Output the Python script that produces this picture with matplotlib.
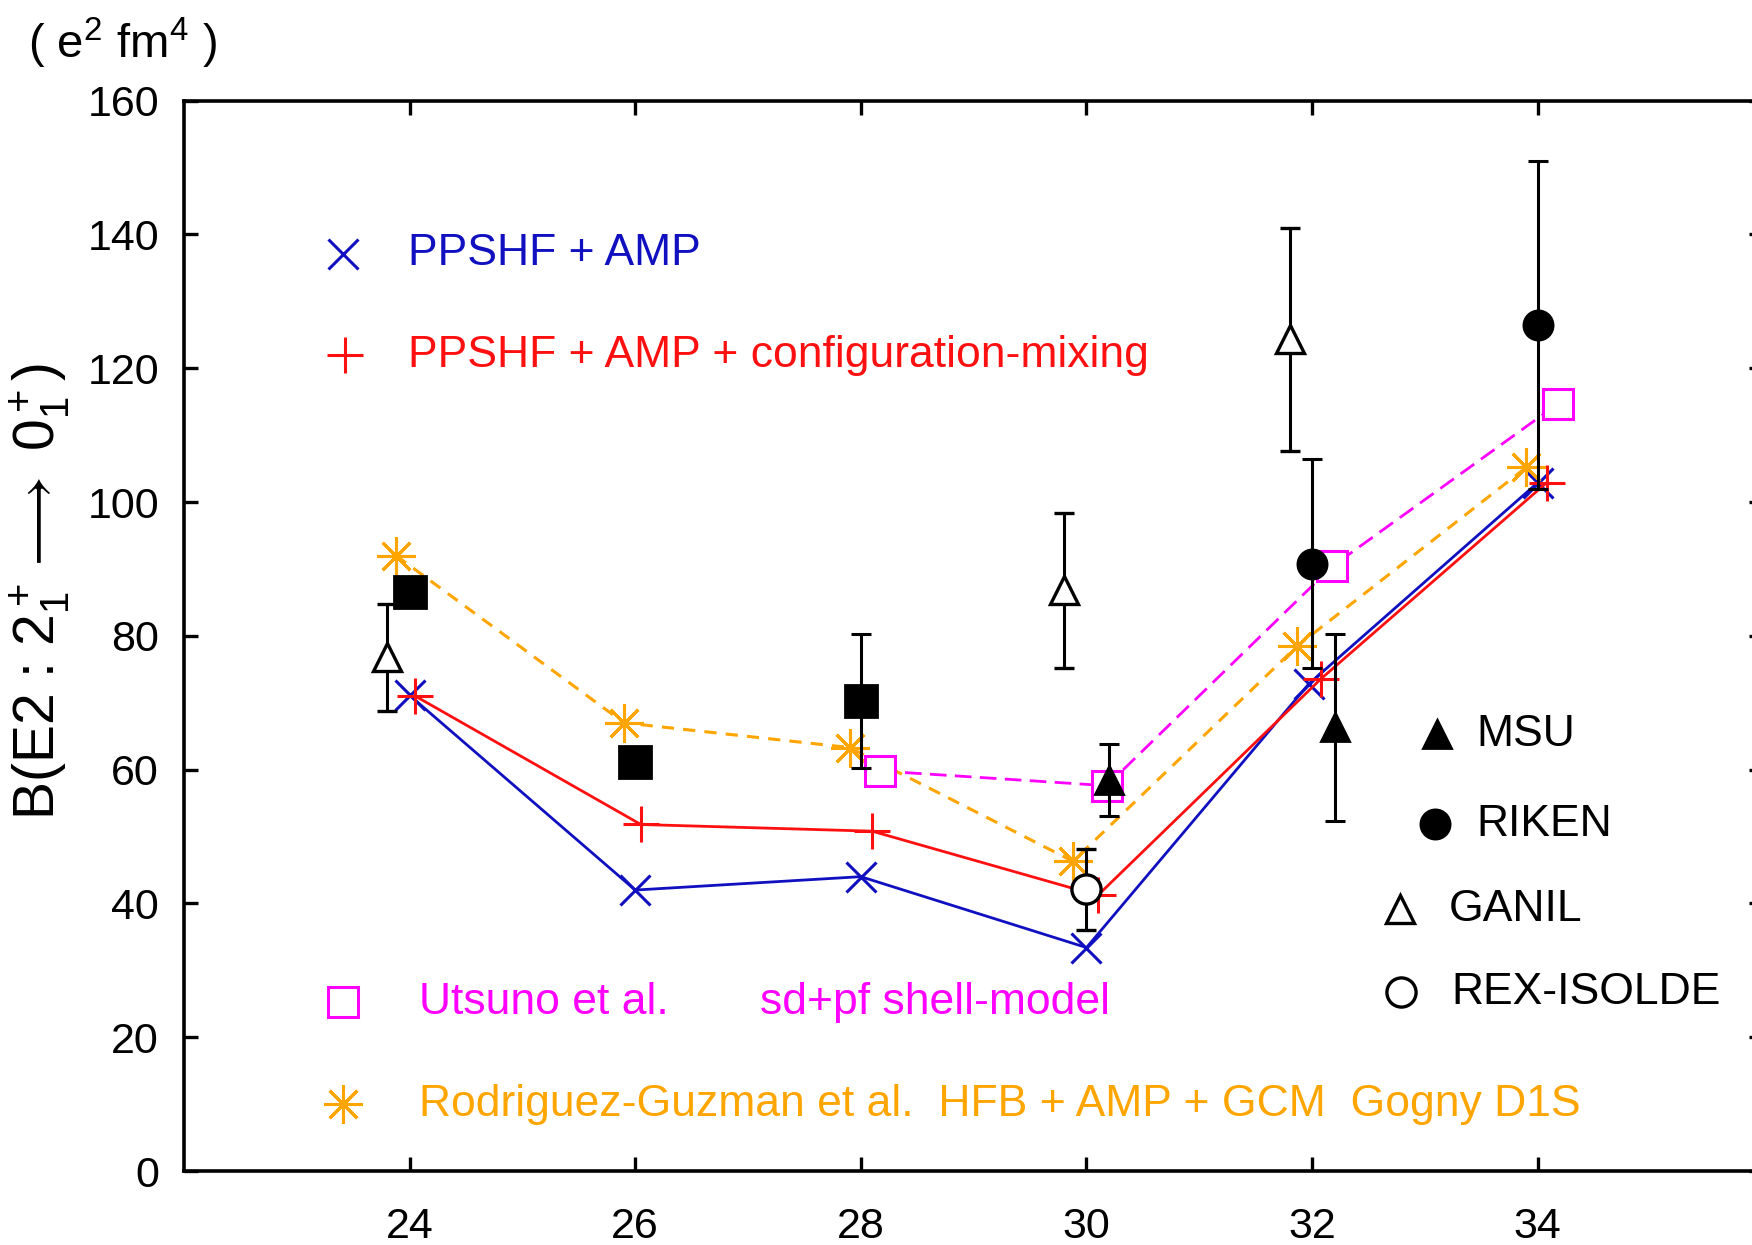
import numpy as np
import matplotlib.pyplot as plt

plt.rcParams['font.family'] = ['Liberation Sans', 'DejaVu Sans']
plt.rcParams['mathtext.fontset'] = 'custom'
plt.rcParams['mathtext.rm'] = 'Liberation Sans'
plt.rcParams['mathtext.it'] = 'Liberation Sans'

# theory curves
ppshf_x = [24.0, 26.0, 28.0, 30.0, 31.97, 34.0]
ppshf = [71.1, 42.0, 44.0, 33.4, 72.8, 102.9]
mix_x = [24.05, 26.05, 28.1, 30.1, 32.08, 34.08]
mix = [71.0, 51.8, 50.8, 41.2, 73.6, 102.9]
rg_x = [23.88, 25.9, 27.9, 29.88, 31.87, 33.9]
rg = [92.0, 67.0, 63.3, 46.3, 78.5, 105.2]
ut_x = [28.17, 30.18, 32.18, 34.18]
ut = [59.8, 57.6, 90.4, 114.7]

# experiments
sq_x = [24.0, 26.0, 28.0]
sq_y = [86.5, 61.1, 70.3]
sq_err = [1.2, 1.2, 10.0]
ganil_x = [23.8, 29.8, 31.8]
ganil_y = [76.8, 86.8, 124.3]
ganil_err = [8.0, 11.6, 16.7]
msu_x = [30.2, 32.2]
msu_y = [58.5, 66.3]
msu_err = [5.4, 14.0]
riken_x = [32.0, 34.0]
riken_y = [90.8, 126.5]
riken_err = [15.6, 24.5]
rex_x = [30.0]
rex_y = [42.1]
rex_err = [6.0]

xticks = [24, 26, 28, 30, 32, 34]
yticks = [0, 20, 40, 60, 80, 100, 120, 140, 160]

blue = '#1010c0'
red = '#ff1010'
mag = '#ff00ff'
orange = '#ffa500'

fig = plt.figure(figsize=(8.76, 6.225), dpi=200)
ax = fig.add_axes([0.105, 0.0594, 0.9015, 0.8598])

lw = 1.0
ax.plot(ppshf_x, ppshf, color=blue, lw=lw, marker='x', ms=11, mew=1.1)
ax.plot(mix_x, mix, color=red, lw=lw, marker='+', ms=13, mew=1.1)
ax.plot(rg_x, rg, color=orange, lw=1.1, ls=(0, (4, 3)), marker=(8, 2, 0), ms=14, mew=1.1)
ax.plot(ut_x, ut, color=mag, lw=1.0, ls=(0, (6, 3)), marker='s', ms=11, mfc='white', mec=mag, mew=1.1)

ekw = dict(ecolor='black', elinewidth=1.1, capsize=3.5, capthick=1.1, ls='none')
ax.errorbar(sq_x, sq_y, yerr=sq_err, fmt='s', color='black', ms=11.5, **ekw)
ax.errorbar(ganil_x, ganil_y, yerr=ganil_err, fmt='^', mfc='white', mec='black', ms=10, mew=1.2, **ekw)
ax.errorbar(msu_x, msu_y, yerr=msu_err, fmt='^', color='black', ms=10, **ekw)
ax.errorbar(riken_x, riken_y, yerr=riken_err, fmt='o', color='black', ms=10.5, **ekw)
ax.errorbar(rex_x, rex_y, yerr=rex_err, fmt='o', mfc='white', mec='black', ms=10.5, mew=1.2, **ekw)

# legend drawn as text
fs = 16
ax.plot([23.41], [137.1], marker='x', color=blue, ms=11, mew=1.1)
ax.text(23.99, 137.1, 'PPSHF + AMP', color=blue, fontsize=fs, va='center')
ax.plot([23.43], [121.9], marker='+', color=red, ms=13, mew=1.1)
ax.text(23.99, 121.9, 'PPSHF + AMP + configuration-mixing', color=red, fontsize=fs, va='center')
ax.plot([23.41], [25.2], marker='s', mfc='white', mec=mag, ms=11, mew=1.1)
ax.text(24.08, 25.2, 'Utsuno et al.', color=mag, fontsize=fs, va='center')
ax.text(27.11, 25.2, 'sd+pf shell-model', color=mag, fontsize=fs, va='center')
ax.plot([23.41], [10.0], marker=(8, 2, 0), color=orange, ms=14, mew=1.1)
ax.text(24.08, 10.0, 'Rodriguez-Guzman et al.  HFB + AMP + GCM  Gogny D1S',
        color=orange, fontsize=fs, va='center')

ax.plot([33.11], [65.3], marker='^', color='black', ms=10)
ax.text(33.46, 65.3, 'MSU', fontsize=fs, va='center')
ax.plot([33.09], [51.8], marker='o', color='black', ms=10.5)
ax.text(33.46, 51.8, 'RIKEN', fontsize=fs, va='center')
ax.plot([32.78], [39.1], marker='^', mfc='white', mec='black', ms=10, mew=1.2)
ax.text(33.21, 39.1, 'GANIL', fontsize=fs, va='center')
ax.plot([32.79], [26.7], marker='o', mfc='white', mec='black', ms=10.5, mew=1.2)
ax.text(33.23, 26.7, 'REX-ISOLDE', fontsize=fs, va='center')

ax.set_xlim(22, 36)
ax.set_ylim(0, 160)
ax.set_xticks(xticks)
ax.set_yticks(yticks)
ax.tick_params(direction='in', length=5, width=1.2, top=True, right=True,
               labelsize=15.5)
ax.tick_params(axis='x', pad=13)
ax.tick_params(axis='y', pad=9)
for s in ax.spines.values():
    s.set_linewidth(1.3)

ax.set_ylabel(r'B(E2 : $2_1^+ \longrightarrow\ 0_1^+$)', fontsize=20.5)
ax.yaxis.set_label_coords(-0.071, 0.541)
fig.text(0.016, 0.965, r'( e$^2$ fm$^4$ )', fontsize=17, va='center')

fig.savefig('out.png', dpi=200)
